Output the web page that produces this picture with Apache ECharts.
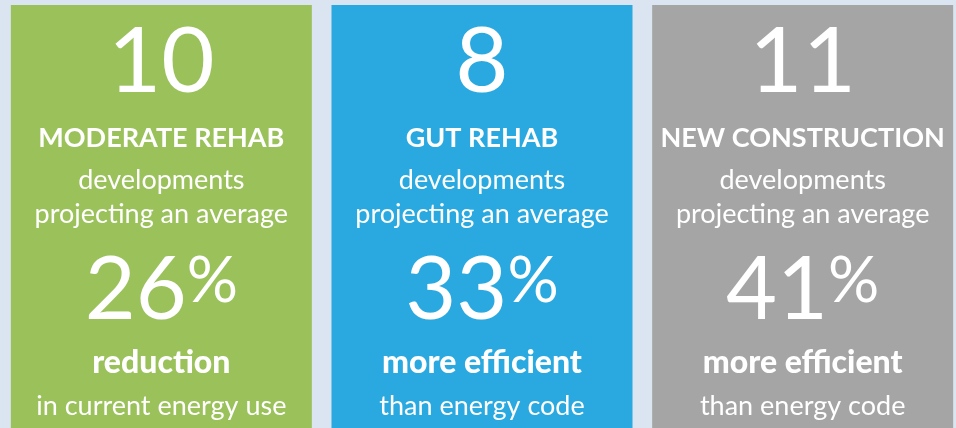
<!DOCTYPE html>
<html>
<head>
<meta charset="utf-8">
<script src="https://cdn.jsdelivr.net/npm/echarts@6/dist/echarts.min.js"></script>
<style>
  html, body { margin: 0; padding: 0; background: #dbe5f1; }
  #main { width: 956px; height: 428px; }
</style>
</head>
<body>
<div id="main"></div>
<script>
// 数据
var categories = ["MODERATE REHAB", "GUT REHAB", "NEW CONSTRUCTION"];
var developments = [10, 8, 11];
var percents = [26, 33, 41];
var measures = ["reduction", "more efficient", "more efficient"];
var baselines = ["in current energy use", "than energy code", "than energy code"];
var panelColors = ["#9bc15b", "#29a9e0", "#a5a5a5"];

(function() {
    var myChart = echarts.init(document.getElementById("main"));
    var font = "Lato, 'Noto Sans', sans-serif";

    function txt(x, y, text, size, weight) {
        return {
            type: "text",
            style: {
                x: x, y: y, text: text,
                fill: "#fff",
                font: weight + " " + size + "px " + font,
                align: "center",
                verticalAlign: "middle"
            }
        };
    }

    var option = {
        backgroundColor: "#dbe5f1",
        // 面板超出右边界一点，关掉外边界限制
        grid: { left: 1, right: -7, top: 5, bottom: 0, outerBoundsMode: "none" },
        xAxis: { type: "category", data: categories, show: false },
        yAxis: { type: "value", min: 0, max: 1, show: false },
        series: [
            {
                type: "custom",
                data: categories.map(function(c, i) {
                    return [i, developments[i], percents[i]];
                }),
                renderItem: function(params, api) {
                    var i = api.value(0);
                    var cx = api.coord([i, 0])[0];
                    var w = 301;
                    var cs = params.coordSys;
                    var top = cs.y;
                    return {
                        type: "group",
                        children: [
                            {
                                type: "rect",
                                shape: { x: cx - w / 2, y: top, width: w, height: cs.height + 10 },
                                style: { fill: panelColors[i] }
                            },
                            txt(cx, top + 57, String(api.value(1)), 92, "normal"),
                            txt(cx, top + 133, categories[i], 27, "bold"),
                            txt(cx, top + 175, "developments", 27, "normal"),
                            txt(cx, top + 209, "projecting an average", 27, "normal"),
                            {
                                type: "text",
                                style: {
                                    x: cx, y: top + 286,
                                    text: "{n|" + api.value(2) + "}{p|%}",
                                    align: "center",
                                    verticalAlign: "middle",
                                    rich: {
                                        n: { fill: "#fff", font: "normal 88px " + font, lineHeight: 88 },
                                        p: { fill: "#fff", font: "normal 64px " + font, verticalAlign: "top", lineHeight: 64, padding: [2, 0, 0, 0] }
                                    }
                                }
                            },
                            txt(cx, top + 358, measures[i], 32, "900"),
                            txt(cx, top + 401, baselines[i], 27, "normal")
                        ]
                    };
                }
            }
        ]
    };

    myChart.setOption(option);
    window.addEventListener("resize", function() {
        myChart.resize();
    });
})();
</script>
</body>
</html>
